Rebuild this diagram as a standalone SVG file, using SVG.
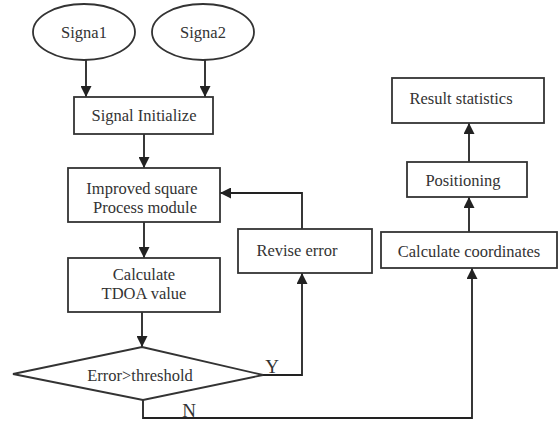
<svg xmlns="http://www.w3.org/2000/svg" width="558" height="423" viewBox="0 0 558 423">
<defs>
<marker id="ah" viewBox="0 0 10 10" refX="10" refY="5" markerWidth="11" markerHeight="11" markerUnits="userSpaceOnUse" orient="auto">
<path d="M0,0 L10,5 L0,10 z" fill="#222"/>
</marker>
<style>
.s{fill:#fff;stroke:#333;stroke-width:1.8}
.c{fill:none;stroke:#222;stroke-width:1.8}
.t{font-family:"Liberation Serif","DejaVu Serif",serif;font-size:16.5px;fill:#333;text-anchor:middle}
.yn{font-size:19px}
</style>
</defs>
<rect width="558" height="423" fill="#fff"/>
<g id="connectors">
<path class="c" d="M86,60 V97" marker-end="url(#ah)"/>
<path class="c" d="M205,60 V97" marker-end="url(#ah)"/>
<path class="c" d="M144,134 V168" marker-end="url(#ah)"/>
<path class="c" d="M144,222 V258" marker-end="url(#ah)"/>
<path class="c" d="M142,312 V347" marker-end="url(#ah)"/>
<path class="c" d="M263,375 H302 V273" marker-end="url(#ah)"/>
<path class="c" d="M302,229 V193 H220" marker-end="url(#ah)"/>
<path class="c" d="M143,400 V418 H472 V268" marker-end="url(#ah)"/>
<path class="c" d="M469,232 V197" marker-end="url(#ah)"/>
<path class="c" d="M469,162 V123" marker-end="url(#ah)"/>
<text class="t yn" x="272" y="373">Y</text>
<text class="t yn" x="189" y="417">N</text>
</g>
<g id="signa1"><ellipse class="s" cx="84" cy="32" rx="51" ry="28"/><text class="t" x="84" y="38">Signa1</text></g>
<g id="signa2"><ellipse class="s" cx="203" cy="32" rx="51" ry="28"/><text class="t" x="203" y="38">Signa2</text></g>
<g id="init"><rect class="s" x="74" y="97" width="139" height="37"/><text class="t" x="144" y="121">Signal Initialize</text></g>
<g id="improved"><rect class="s" x="68" y="168" width="152" height="54"/><text class="t" x="142" y="194">Improved square</text><text class="t" x="145" y="213">Process module</text></g>
<g id="tdoa"><rect class="s" x="68" y="258" width="152" height="54"/><text class="t" x="144" y="280">Calculate</text><text class="t" x="144" y="299">TDOA value</text></g>
<g id="decision"><polygon class="s" points="142,347 263,375 143,400 13,374"/><text class="t" x="140" y="381">Error&gt;threshold</text></g>
<g id="revise"><rect class="s" x="238" y="229" width="134" height="44"/><text class="t" x="297" y="256">Revise error</text></g>
<g id="coords"><rect class="s" x="381" y="232" width="176" height="36"/><text class="t" x="469" y="257">Calculate coordinates</text></g>
<g id="positioning"><rect class="s" x="407" y="162" width="120" height="35"/><text class="t" x="463" y="186">Positioning</text></g>
<g id="result"><rect class="s" x="392" y="78" width="152" height="45"/><text class="t" x="461" y="104">Result statistics</text></g>
</svg>
